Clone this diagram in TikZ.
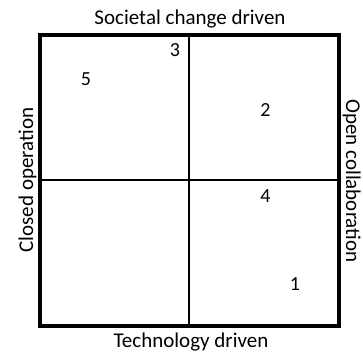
\documentclass[tikz,border=0pt]{standalone}
\usepackage{fontspec}
\setmainfont{Carlito}
\usetikzlibrary{positioning}

\tikzset{
  axislabel/.style={font=\fontsize{21}{24}\selectfont, inner sep=0pt, anchor=base},
  quadnum/.style={font=\fontsize{20}{24}\selectfont, inner sep=0pt, anchor=base}
}

\begin{document}
\begin{tikzpicture}[x=1pt, y=-1pt]
        \useasboundingbox (0,0) rectangle (363,352);
        % Outer frame
        \coordinate (frameNW) at (40,35);
        \coordinate (frameSE) at (339,326);
        \draw[line width=3.5pt] (frameNW) rectangle (frameSE);

        % Quadrant axes
        \coordinate (axisTop) at (189,35);
        \coordinate (axisBottom) at (189,326);
        \coordinate (axisLeft) at (40,180);
        \coordinate (axisRight) at (339,180);
        \draw[line width=1.5pt] (axisTop) -- (axisBottom);
        \draw[line width=2pt] (axisLeft) -- (axisRight);

        % Axis labels
        \node[axislabel] (societal) at (190,25) {Societal change driven};
        \node[axislabel] (technology) at (191,347) {Technology driven};
        \node[axislabel, rotate=90] (closed) at (33,180) {Closed operation};
        \node[axislabel, rotate=-90] (open) at (346,181) {Open collaboration};

        % Numbered items
        \node[quadnum] (item3) at (175,57) {3};
        \node[quadnum] (item5) at (86,86) {5};
        \node[quadnum] (item2) at (265.5,117) {2};
        \node[quadnum] (item4) at (265.5,203) {4};
        \node[quadnum] (item1) at (295,290) {1};
    \end{tikzpicture}
\end{document}
